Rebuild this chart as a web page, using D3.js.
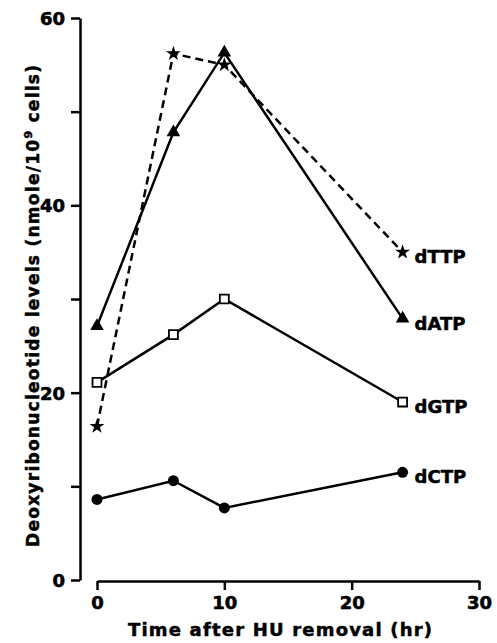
<!DOCTYPE html>
<html>
    <head>
        <meta charset="utf-8">
        <title>Deoxyribonucleotide levels</title>
        <script src="https://d3js.org/d3.v7.min.js"></script>
        <style>
         html, body {
             margin: 0;
             background-color: white;
         }
         svg text {
             font-family: "DejaVu Sans", "Liberation Sans", Arial, sans-serif;
             font-weight: bold;
             fill: black;
             stroke: black;
             stroke-width: 0.5;
         }
         .axis path, .axis line {
             stroke: black;
             stroke-width: 2.5;
         }
        </style>
    </head>
    <body>
        <div id="plot"></div>
        <script>
         // values
         const hours = [0, 6, 10, 24]
         const dTTP = [16.4, 56.2, 55.0, 35.0]
         const dATP = [27.1, 47.8, 56.3, 27.9]
         const dGTP = [21.1, 26.2, 30.0, 19.0]
         const dCTP = [8.6, 10.6, 7.7, 11.5]
         const seriesNames = ["dTTP", "dATP", "dGTP", "dCTP"]
         const xTicks = [0, 10, 20, 30]
         const yTicks = [0, 10, 20, 30, 40, 50, 60]
         const yLabels = [0, 20, 40, 60]

         const width = 497, height = 643

         const svg = d3.select("#plot")
                       .append("svg")
                       .attr("width", width)
                       .attr("height", height)

         const x = d3.scaleLinear().domain([0, 30]).range([97, 479])
         const y = d3.scaleLinear().domain([0, 60]).range([580, 18])

         const boldText = g => g.selectAll("text")
                                .attr("font-size", 18)
                                .style("font-weight", "bold")
                                .style("stroke", "black")
                                .style("stroke-width", 0.6)

         // Y axis
         svg.append("g")
            .attr("class", "axis")
            .attr("transform", "translate(80,0)")
            .call(d3.axisLeft(y).tickValues(yTicks).tickSize(9).tickSizeOuter(0).tickPadding(6)
                    .tickFormat(d => yLabels.includes(d) ? d : ""))
            .call(boldText)
            .call(g => g.selectAll("text").attr("dy", "0.36em"))

         // X axis
         svg.append("g")
            .attr("class", "axis")
            .attr("transform", "translate(0,581)")
            .call(d3.axisBottom(x).tickValues(xTicks).tickSize(9).tickSizeOuter(0).tickPadding(5))
            .call(boldText)
            .call(g => g.selectAll("text").attr("dy", "0.8em"))

         // axis titles
         svg.append("text")
            .attr("x", 280)
            .attr("y", 636)
            .attr("text-anchor", "middle")
            .attr("font-size", 18)
            .attr("textLength", 304)
            .text("Time after HU removal (hr)")

         const yt = svg.append("text")
            .attr("transform", "translate(39,306) rotate(-90)")
            .attr("text-anchor", "middle")
            .attr("font-size", 17)
            .attr("textLength", 482)
         yt.append("tspan").text("Deoxyribonucleotide levels (nmole/10")
         yt.append("tspan").attr("font-size", 11).attr("dy", -7).text("9")
         yt.append("tspan").attr("dy", 7).text(" cells)")

         const lineGen = d3.line()
                           .x(d => x(d[0]))
                           .y(d => y(d[1]))

         const allSeries = [dTTP, dATP, dGTP, dCTP]
         const dashes = ["8,5", null, null, null]
         const symbols = [d3.symbolStar, d3.symbolTriangle, d3.symbolSquare, d3.symbolCircle]
         const symSizes = [70, 80, 80, 95]
         const filled = [true, true, false, true]

         allSeries.forEach((vals, i) => {
             const pts = hours.map((h, j) => [h, vals[j]])
             svg.append("path")
                .datum(pts)
                .attr("fill", "none")
                .attr("stroke", "black")
                .attr("stroke-width", 2.5)
                .attr("stroke-dasharray", dashes[i])
                .attr("d", lineGen)
             svg.selectAll(null)
                .data(pts)
                .enter()
                .append("path")
                .attr("transform", d => "translate(" + x(d[0]) + "," + y(d[1]) + ")")
                .attr("d", d3.symbol().type(symbols[i]).size(symSizes[i]))
                .attr("fill", filled[i] ? "black" : "white")
                .attr("stroke", "black")
                .attr("stroke-width", filled[i] ? 0 : 1.8)
             // series label at end of line
             svg.append("text")
                .attr("x", x(24) + 12)
                .attr("y", y(vals[3]) + 11)
                .attr("font-size", 18)
                .text(seriesNames[i])
         })
        </script>
    </body>
</html>
